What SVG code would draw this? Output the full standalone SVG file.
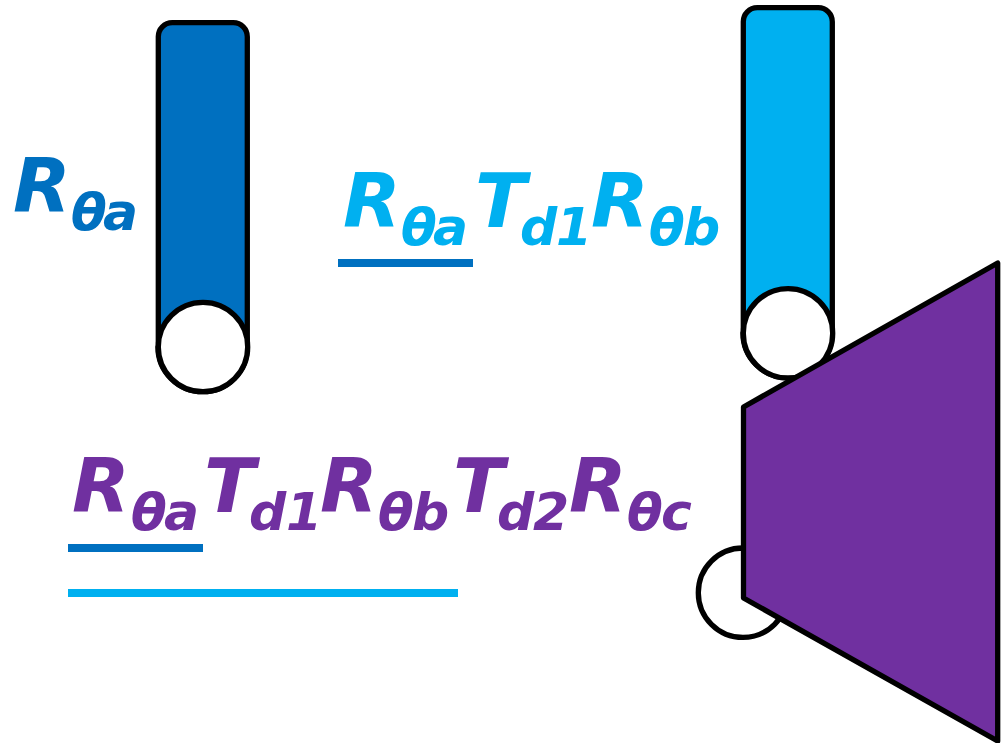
<svg xmlns="http://www.w3.org/2000/svg" width="1007" height="743" viewBox="0 0 1007 743">
<style>
.s{stroke:#000;stroke-width:5.3;stroke-linejoin:round}
.c{fill:#fff}
text{font-family:"DejaVu Sans",Verdana,sans-serif;font-weight:bold;font-style:italic;font-size:75px}
tspan.u{font-size:52px}
.b{fill:#0070C0}.l{fill:#00B0F0}.p{fill:#7030A0}
</style>
<g id="link-a"><path class="s b" d="M158.3 347V37a14 14 0 0 1 14-14.3h61a14 14 0 0 1 14 14.3V347a44.7 44.7 0 0 1-89.4 0Z"/><circle class="s c" cx="203" cy="347" r="44.7"/></g>
<g id="link-b"><path class="s l" d="M743.3 333V22a14 14 0 0 1 14-14.3h61a14 14 0 0 1 14 14.3V333a44.7 44.7 0 0 1-89.4 0Z"/><circle class="s c" cx="788" cy="333.3" r="44.7"/></g>
<g id="link-c"><circle class="s c" cx="743" cy="592.7" r="44.7"/><polygon class="s p" points="743.5,407 997.7,263 997.7,741 743.5,598"/></g>
<g id="eq-a"><text class="b"><tspan x="13" y="212">R</tspan><tspan class="u" x="71 103" y="230">θa</tspan></text></g>
<g id="eq-b"><text class="l"><tspan x="343" y="227">R</tspan><tspan class="u" x="401 433" y="245">θa</tspan><tspan x="475" y="227">T</tspan><tspan class="u" x="520 556" y="245">d1</tspan><tspan x="591" y="227">R</tspan><tspan class="u" x="649 683" y="245">θb</tspan></text><rect x="338" y="259" width="135" height="8" fill="#0070C0"/></g>
<g id="eq-c"><text class="p"><tspan x="72" y="512">R</tspan><tspan class="u" x="131 164" y="530">θa</tspan><tspan x="204" y="512">T</tspan><tspan class="u" x="249 286" y="530">d1</tspan><tspan x="320" y="512">R</tspan><tspan class="u" x="378 412" y="530">θb</tspan><tspan x="453" y="512">T</tspan><tspan class="u" x="497 533" y="530">d2</tspan><tspan x="569" y="512">R</tspan><tspan class="u" x="627 661" y="530">θc</tspan></text><rect x="68" y="544" width="135" height="8" fill="#0070C0"/><rect x="68" y="589" width="390" height="8" fill="#00B0F0"/></g>
</svg>
